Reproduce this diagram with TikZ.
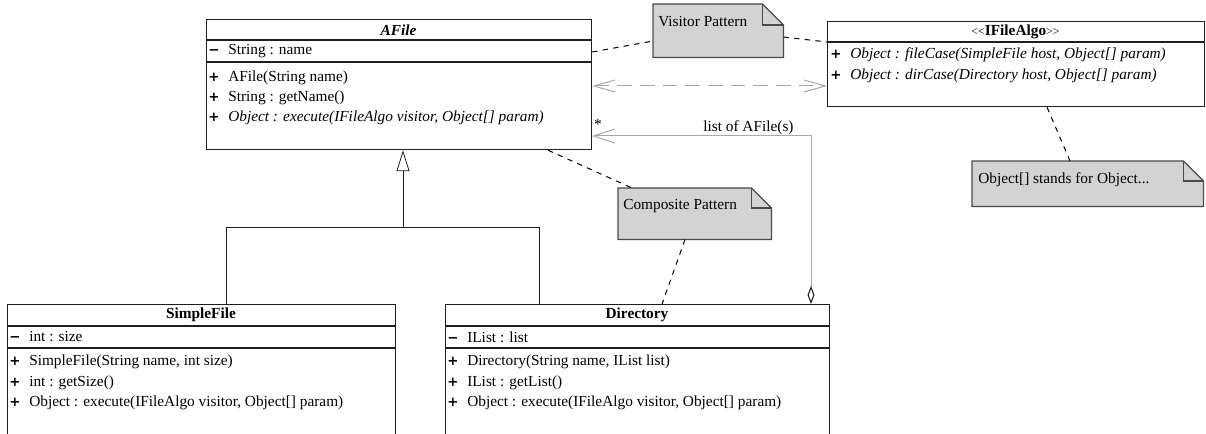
\documentclass[tikz,border=0pt]{standalone}
\usepackage{fontspec}
\setmainfont{Liberation Serif}
\newfontfamily\signfont{DejaVu Sans}
\usetikzlibrary{arrows.meta}
\definecolor{notefill}{HTML}{D3D3D3}
\definecolor{noteline}{HTML}{4A4A4A}
\definecolor{linkgray}{HTML}{A8A8A8}
\definecolor{boxline}{HTML}{1E1E1E}
\newcommand{\pub}{\makebox[15pt][l]{\signfont\bfseries\fontsize{10pt}{12pt}\selectfont +}}
\newcommand{\priv}{\makebox[15pt][l]{\signfont\bfseries\fontsize{10pt}{12pt}\selectfont \char"2212}}
\tikzset{
  every node/.style={font=\fontsize{11.5pt}{13pt}\selectfont},
  classbox/.style={draw=boxline, line width=0.9pt, inner sep=0pt, anchor=north west, fill=white},
  sepline/.style={draw=boxline, line width=0.9pt},
  row/.style={anchor=west, inner sep=0pt},
  ctitle/.style={inner sep=0pt, font=\fontsize{11.5pt}{13pt}\selectfont\bfseries},
  noteframe/.style={inner sep=0pt, anchor=north west},
  noteshape/.style={fill=notefill, draw=noteline, line width=0.9pt, line join=miter},
  notelink/.style={draw=black, line width=0.75pt, dash pattern=on 4pt off 4pt},
  inherit/.style={draw=boxline, line width=0.6pt},
  usesarrow/.style={draw=linkgray, line width=0.75pt, dash pattern=on 11pt off 6pt,
     {Straight Barb[length=15.75pt,width=9pt]}-{Straight Barb[length=15.75pt,width=9pt]}},
  aggr/.style={draw=linkgray, line width=0.75pt,
     {Diamond[open,length=13.5pt,width=5.25pt,line width=0.8pt,color=boxline,fill=white]}-{Straight Barb[length=15.75pt,width=10.5pt]}},
  gentip/.style={-{Triangle[open,length=15.75pt,width=9.75pt,fill=white]}}
}
\begin{document}
\begin{tikzpicture}[x=0.75pt,y=-0.75pt]
\useasboundingbox (0,0) rectangle (1206,434);
\clip (0,0) rectangle (1206,434);

% ---------- AFile ----------
\node[classbox, minimum width=288.75pt, minimum height=97.5pt] (afile) at (206,19) {};
\draw[sepline] (afile.west |- 0,40) -- (afile.east |- 0,40);
\draw[sepline] (afile.west |- 0,62) -- (afile.east |- 0,62);
\node[ctitle, font=\fontsize{11.5pt}{13pt}\selectfont\bfseries\itshape] (afileT) at (398.5,30) {AFile};
\node[row] (afileA1) at (208,51.5) {\priv String : name};
\node[row] (afileM1) at (208,78) {\pub AFile(String name)};
\node[row] (afileM2) at (208,98) {\pub String : getName()};
\node[row] (afileM3) at (208,118) {\pub \textit{Object : execute(IFileAlgo visitor, Object[] param)}};

% ---------- IFileAlgo ----------
\node[classbox, minimum width=282.75pt, minimum height=63.75pt] (ifile) at (827,21) {};
\draw[sepline] (ifile.west |- 0,42) -- (ifile.east |- 0,42);
\node[ctitle] (ifileT) at (1015.5,31.5) {{\mdseries\fontsize{9pt}{10pt}\selectfont<\kern0pt<}IFileAlgo{\mdseries\fontsize{9pt}{10pt}\selectfont>\kern0pt>}};
\node[row] (ifileM1) at (830,55) {\pub \textit{Object : fileCase(SimpleFile host, Object[] param)}};
\node[row] (ifileM2) at (830,76) {\pub \textit{Object : dirCase(Directory host, Object[] param)}};

% ---------- SimpleFile ----------
\node[classbox, minimum width=291pt, minimum height=102pt] (sfile) at (7,304) {};
\draw[sepline] (sfile.west |- 0,326) -- (sfile.east |- 0,326);
\draw[sepline] (sfile.west |- 0,348) -- (sfile.east |- 0,348);
\node[ctitle] (sfileT) at (201,315) {SimpleFile};
\node[row] (sfileA1) at (9,337) {\priv int : size};
\node[row] (sfileM1) at (9,362) {\pub SimpleFile(String name, int size)};
\node[row] (sfileM2) at (9,383) {\pub int : getSize()};
\node[row] (sfileM3) at (9,403) {\pub Object : execute(IFileAlgo visitor, Object[] param)};

% ---------- Directory ----------
\node[classbox, minimum width=288pt, minimum height=102pt] (dir) at (445,304) {};
\draw[sepline] (dir.west |- 0,326) -- (dir.east |- 0,326);
\draw[sepline] (dir.west |- 0,348) -- (dir.east |- 0,348);
\node[ctitle] (dirT) at (637,315) {Directory};
\node[row] (dirA1) at (447,337) {\priv IList : list};
\node[row] (dirM1) at (447,362) {\pub Directory(String name, IList list)};
\node[row] (dirM2) at (447,383) {\pub IList : getList()};
\node[row] (dirM3) at (447,403) {\pub Object : execute(IFileAlgo visitor, Object[] param)};

% ---------- Notes ----------
% Visitor Pattern
\node[noteframe, minimum width=97.5pt, minimum height=39.75pt] (vnote) at (653,4) {};
\draw[noteshape] (vnote.north west) -- ([xshift=-15.75pt]vnote.north east) -- ([yshift=-15.75pt]vnote.north east) -- (vnote.south east) -- (vnote.south west) -- cycle;
\draw[noteshape, fill=none] ([xshift=-15.75pt]vnote.north east) |- ([yshift=-15.75pt]vnote.north east);
\node[row] (vnoteT) at (658,22) {Visitor Pattern};

% Composite Pattern
\node[noteframe, minimum width=114.75pt, minimum height=38.25pt] (cnote) at (618,188) {};
\draw[noteshape] (cnote.north west) -- ([xshift=-15pt]cnote.north east) -- ([yshift=-15pt]cnote.north east) -- (cnote.south east) -- (cnote.south west) -- cycle;
\draw[noteshape, fill=none] ([xshift=-15pt]cnote.north east) |- ([yshift=-15pt]cnote.north east);
\node[row] (cnoteT) at (623,206) {Composite Pattern};

% Object[] note
\node[noteframe, minimum width=173.25pt, minimum height=33.75pt] (onote) at (972,161) {};
\draw[noteshape] (onote.north west) -- ([xshift=-15pt]onote.north east) -- ([yshift=-15pt]onote.north east) -- (onote.south east) -- (onote.south west) -- cycle;
\draw[noteshape, fill=none] ([xshift=-15pt]onote.north east) |- ([yshift=-15pt]onote.north east);
\node[row] (onoteT) at (978,180) {Object[] stands for Object...};

% ---------- Note links ----------
\draw[notelink] (afile.east |- 0,52) -- (vnote.west |- 0,41);
\draw[notelink] (vnote.east |- 0,37) -- (ifile.west |- 0,42);
\draw[notelink] (548,0 |- afile.south) -- (632,0 |- cnote.north);
\draw[notelink] (685,0 |- cnote.south) -- (662,0 |- dir.north);
\draw[notelink] (1047,0 |- ifile.south) -- (1070,0 |- onote.north);

% ---------- Visitor dependency (dashed, both ends) ----------
\draw[usesarrow] (afile.east |- 0,86) -- (ifile.west |- 0,86);

% ---------- Aggregation ----------
\draw[aggr] (811,0 |- dir.north) -- (811,136) -- (afile.east |- 0,136);
\node[inner sep=0pt] (mult) at (598,124) {*};
\node[row] (aggrlabel) at (703,128) {list of AFile(s)};

% ---------- Generalization ----------
\coordinate (gjoin) at (403,227);
\draw[inherit] (226,0 |- sfile.north) -- (226,227) -- (539,227) -- (539,0 |- dir.north);
\draw[inherit, gentip] (gjoin) -- (403,0 |- afile.south);

\end{tikzpicture}
\end{document}
